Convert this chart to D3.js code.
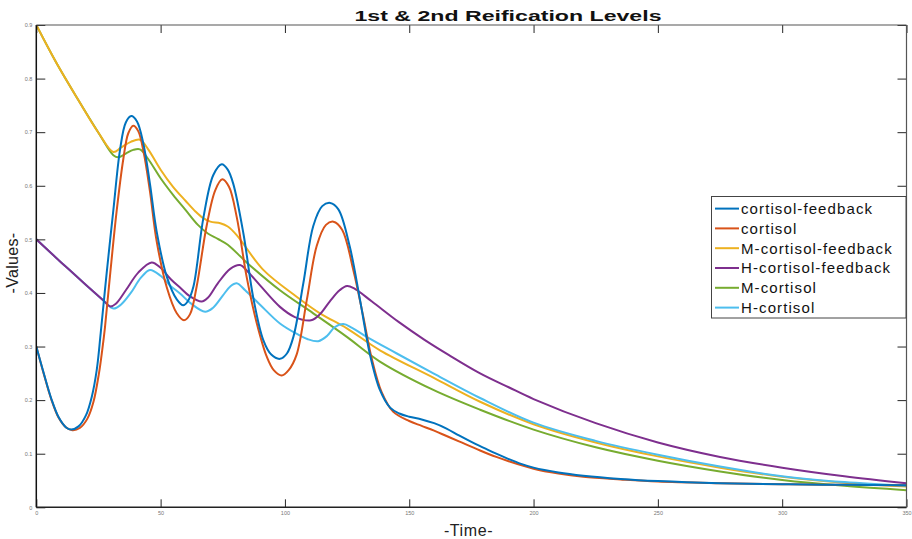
<!DOCTYPE html>
<html>
<head>
<meta charset="utf-8">
<script src="https://cdn.jsdelivr.net/npm/d3@7"></script>
<style>
  html, body { margin: 0; padding: 0; background: #fff; }
  svg { display: block; font-family: "Liberation Sans", Arial, sans-serif; }
</style>
</head>
<body>
<svg id="chart" width="912" height="539"></svg>
<script>
// ---------- DATA ----------
const seriesNames = ["cortisol-feedback", "cortisol", "M-cortisol-feedback", "H-cortisol-feedback", "M-cortisol", "H-cortisol"];
const xTicks = [0, 50, 100, 150, 200, 250, 300, 350];
const yTicks = [0, 0.1, 0.2, 0.3, 0.4, 0.5, 0.6, 0.7, 0.8, 0.9];

const cortisolFeedback = [[0,0.300],[3,0.250],[6,0.203],[9,0.168],[12,0.149],[14,0.145],[17,0.151],[20,0.172],[22.3,0.206],[24.3,0.256],[25.9,0.325],[28.3,0.437],[31,0.555],[33.7,0.668],[36,0.718],[38.2,0.730],[40.5,0.720],[43,0.680],[45.7,0.604],[48.4,0.515],[52.5,0.430],[56.5,0.388],[59.1,0.377],[61,0.385],[63.2,0.412],[67.2,0.540],[71.2,0.620],[74.6,0.640],[77,0.630],[79.2,0.604],[83.3,0.511],[87.3,0.390],[91.3,0.312],[94.5,0.285],[98,0.277],[100.8,0.287],[103.4,0.318],[107.4,0.418],[111.4,0.525],[115,0.562],[118.2,0.568],[121.5,0.556],[126.1,0.486],[130.2,0.387],[134.2,0.285],[138.2,0.219],[142.3,0.186],[146,0.175],[150,0.169],[155,0.164],[160,0.157],[165,0.147],[170,0.134],[175,0.122],[180,0.111],[185,0.100],[190,0.090],[195,0.081],[200,0.074],[210,0.065],[220,0.059],[235,0.053],[250,0.049],[275,0.045],[300,0.043],[325,0.042],[350,0.041]];

const cortisol = [[0,0.300],[3,0.249],[6,0.202],[9,0.167],[12,0.149],[14.5,0.144],[17.5,0.148],[20.5,0.165],[23,0.197],[25.2,0.250],[26.5,0.293],[27.6,0.335],[29.6,0.430],[32.3,0.552],[35,0.650],[37,0.698],[39,0.712],[41,0.702],[43.2,0.662],[45.7,0.590],[48.4,0.497],[52.5,0.410],[56.5,0.362],[59.4,0.349],[61.8,0.360],[64.5,0.412],[68.5,0.525],[72,0.592],[74.8,0.612],[77.5,0.598],[80.6,0.542],[84.6,0.430],[88.7,0.343],[92.7,0.281],[95.5,0.256],[98.7,0.246],[101.5,0.256],[104.7,0.285],[108.8,0.387],[112.8,0.488],[116.5,0.527],[119.5,0.533],[123,0.518],[127.5,0.443],[131.5,0.356],[134.9,0.278],[138.9,0.215],[143.6,0.178],[150,0.161],[155,0.152],[160,0.143],[165,0.133],[170,0.123],[178.5,0.106],[185,0.094],[190,0.086],[200,0.072],[210,0.063],[220,0.057],[235,0.052],[250,0.048],[275,0.045],[300,0.043],[325,0.042],[350,0.041]];

const mCortisolFeedback = [[0,0.900],[8,0.830],[16.9,0.760],[25,0.699],[31,0.663],[34,0.671],[38,0.682],[41.7,0.686],[45,0.668],[50,0.630],[55,0.598],[60,0.572],[64,0.552],[67,0.540],[70,0.533],[74,0.530],[77,0.524],[80.6,0.508],[91.3,0.443],[104.7,0.393],[114.1,0.362],[124.9,0.334],[138.2,0.293],[159.7,0.242],[178.5,0.197],[200,0.155],[225,0.121],[250,0.095],[275,0.074],[300,0.057],[325,0.046],[350,0.039]];

const hCortisolFeedback = [[0,0.500],[10,0.457],[20,0.415],[27,0.386],[29.6,0.375],[32,0.380],[36,0.405],[41,0.438],[46.4,0.457],[50,0.447],[54,0.426],[57.8,0.410],[62,0.393],[66.5,0.384],[69,0.391],[73,0.418],[78,0.445],[81.9,0.452],[85,0.440],[90,0.414],[98,0.374],[104,0.355],[110.5,0.349],[114,0.360],[118,0.384],[122,0.405],[125,0.413],[128,0.408],[135,0.384],[146,0.345],[156,0.313],[166,0.284],[178.5,0.250],[190,0.224],[200,0.202],[225,0.157],[250,0.121],[275,0.094],[300,0.074],[325,0.058],[350,0.045]];

const mCortisol = [[0,0.900],[8,0.830],[16.9,0.760],[25,0.699],[31,0.657],[33,0.653],[36,0.660],[39,0.667],[41.7,0.668],[45,0.650],[50,0.614],[55,0.583],[60,0.555],[65,0.527],[69,0.511],[73,0.501],[77,0.490],[84.6,0.457],[98,0.405],[111.4,0.362],[124.9,0.318],[138.2,0.272],[159.7,0.219],[178.5,0.182],[200,0.145],[225,0.112],[250,0.087],[275,0.067],[300,0.051],[325,0.040],[350,0.032]];

const hCortisol = [[0,0.500],[10,0.457],[20,0.415],[27,0.386],[31,0.371],[34,0.378],[38,0.400],[42,0.428],[45.7,0.443],[50,0.432],[54,0.413],[57.8,0.399],[62,0.381],[67.9,0.365],[71,0.372],[75,0.395],[78,0.412],[80.6,0.418],[84,0.405],[90,0.378],[98,0.343],[105,0.323],[109,0.314],[113.4,0.310],[117,0.320],[120,0.336],[123.5,0.342],[127,0.335],[132.9,0.318],[145,0.287],[159.7,0.250],[178.5,0.204],[200,0.158],[225,0.124],[250,0.098],[275,0.076],[300,0.058],[325,0.047],[350,0.040]];

const seriesData = [cortisolFeedback, cortisol, mCortisolFeedback, hCortisolFeedback, mCortisol, hCortisol];
const seriesColors = ["#0072BD", "#D95319", "#EDB120", "#7E2F8E", "#77AC30", "#4DBEEE"];
// Draw order (legend order is seriesNames order)
const drawOrder = [4, 2, 5, 3, 1, 0];

// ---------- LAYOUT ----------
const L = 36.3, R = 906.5, T = 25, B = 507.3;
const svg = d3.select("#chart");

const x = d3.scaleLinear().domain([0, 350]).range([L, R]);
const y = d3.scaleLinear().domain([0, 0.9]).range([B, T]);

svg.append("defs").append("clipPath").attr("id", "clip")
  .append("rect").attr("x", L).attr("y", T).attr("width", R - L).attr("height", B - T);

// Lines
const line = d3.line().x(d => x(d[0])).y(d => y(d[1])).curve(d3.curveCatmullRom.alpha(0.5));
const gLines = svg.append("g").attr("clip-path", "url(#clip)");
drawOrder.forEach(i => {
  gLines.append("path")
    .datum(seriesData[i])
    .attr("d", line)
    .attr("fill", "none")
    .attr("stroke", seriesColors[i])
    .attr("stroke-width", 2)
    .attr("stroke-linejoin", "round");
});

// Axes
function styleAxis(g) {
  g.select(".domain").remove();
  g.selectAll(".tick line").attr("stroke", "#262626").attr("stroke-width", 1);
  g.selectAll(".tick text").attr("fill", "#777").attr("font-size", "5.5px")
    .attr("font-family", "Liberation Sans, Arial, sans-serif");
}
const fmtY = d => d === 0 ? "0" : d3.format(".1f")(d);

svg.append("g").attr("transform", `translate(${L},0)`)
  .call(d3.axisLeft(y).tickValues(yTicks).tickFormat(fmtY).tickSizeInner(-9).tickSizeOuter(0).tickPadding(4))
  .call(styleAxis);
svg.append("g").attr("transform", `translate(${R},0)`)
  .call(d3.axisRight(y).tickValues(yTicks).tickFormat("").tickSizeInner(-9).tickSizeOuter(0))
  .call(styleAxis);
svg.append("g").attr("transform", `translate(0,${B})`)
  .call(d3.axisBottom(x).tickValues(xTicks).tickFormat(d3.format("d")).tickSizeInner(-8).tickSizeOuter(0).tickPadding(4))
  .call(styleAxis);
svg.append("g").attr("transform", `translate(0,${T})`)
  .call(d3.axisTop(x).tickValues(xTicks).tickFormat("").tickSizeInner(-8).tickSizeOuter(0))
  .call(styleAxis);

// Frame
svg.append("line").attr("x1", L).attr("x2", L).attr("y1", T).attr("y2", B).attr("stroke", "#111").attr("stroke-width", 1.5);
svg.append("line").attr("x1", L).attr("x2", R).attr("y1", B).attr("y2", B).attr("stroke", "#222").attr("stroke-width", 1.5);
svg.append("line").attr("x1", L).attr("x2", R).attr("y1", T).attr("y2", T).attr("stroke", "#555").attr("stroke-width", 1.2);
svg.append("line").attr("x1", R).attr("x2", R).attr("y1", T).attr("y2", B).attr("stroke", "#555").attr("stroke-width", 1.2);

// Title
svg.append("text").attr("x", 508).attr("y", 20.5).attr("text-anchor", "middle")
  .attr("font-weight", "bold").attr("font-size", "15px").attr("fill", "#111")
  .attr("textLength", 307).attr("lengthAdjust", "spacingAndGlyphs")
  .text("1st & 2nd Reification Levels");

// Axis labels
svg.append("text").attr("transform", "translate(18.3,263) rotate(-90)")
  .attr("text-anchor", "middle").attr("font-size", "16px").attr("fill", "#222")
  .attr("letter-spacing", "0.3px")
  .text("-Values-");
svg.append("text").attr("x", 468.5).attr("y", 536).attr("text-anchor", "middle")
  .attr("font-size", "16px").attr("fill", "#222").attr("letter-spacing", "0.6px")
  .text("-Time-");

// Legend
const lg = svg.append("g");
lg.append("rect").attr("x", 711.5).attr("y", 196.5).attr("width", 194.5).attr("height", 121.5)
  .attr("fill", "#fff").attr("stroke", "#444").attr("stroke-width", 1);
seriesNames.forEach((name, i) => {
  const yy = 208.6 + i * 19.8;
  lg.append("line").attr("x1", 715).attr("x2", 739).attr("y1", yy).attr("y2", yy)
    .attr("stroke", seriesColors[i]).attr("stroke-width", 2);
  lg.append("text").attr("x", 741).attr("y", yy).attr("dy", "0.36em")
    .attr("font-size", "15px").attr("fill", "#111").attr("letter-spacing", "1.1px")
    .text(name);
});
</script>
</body>
</html>
